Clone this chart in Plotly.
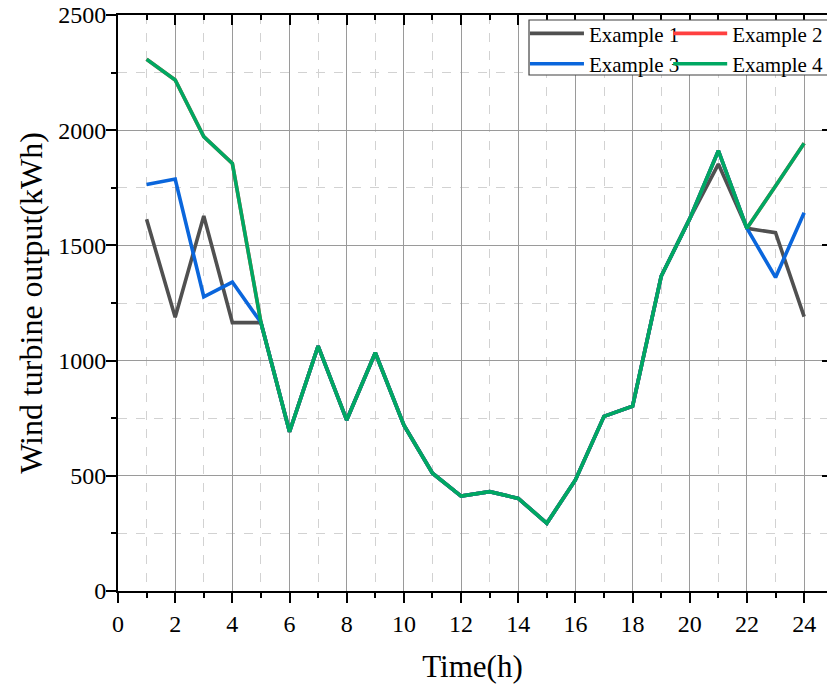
import plotly.graph_objects as go

# Hourly wind turbine output (kWh) for four dispatch examples
hours = list(range(1, 25))

example_1 = [1613, 1188, 1628, 1165, 1165, 691, 1063, 742, 1034, 720, 511, 412,
             431, 402, 294, 482, 758, 802, 1366, 1616, 1853, 1574, 1555, 1191]
example_2 = [2308, 2218, 1972, 1856, 1165, 691, 1063, 742, 1034, 720, 511, 412,
             431, 402, 294, 482, 758, 802, 1366, 1616, 1911, 1574, 1758, 1943]
example_3 = [1764, 1788, 1277, 1341, 1165, 691, 1063, 742, 1034, 720, 511, 412,
             431, 402, 294, 482, 758, 802, 1366, 1616, 1911, 1574, 1361, 1642]
example_4 = [2308, 2218, 1972, 1856, 1165, 691, 1063, 742, 1034, 720, 511, 412,
             431, 402, 294, 482, 758, 802, 1366, 1616, 1911, 1574, 1758, 1943]

# (name, values, colour, legend column)
series = [
    ("Example 1", example_1, "#505050", "legend"),
    ("Example 2", example_2, "#ff4040", "legend2"),
    ("Example 3", example_3, "#0a66dc", "legend"),
    ("Example 4", example_4, "#00a862", "legend2"),
]

FONT = "Liberation Serif, Times New Roman, serif"
X_RANGE = [0, 24.8]
Y_RANGE = [0, 2500]

fig = go.Figure()
for name, values, color, leg in series:
    fig.add_trace(go.Scatter(x=hours, y=values, mode="lines", name=name,
                             legend=leg, line=dict(color=color, width=3.6)))

# empty helpers so the mirrored top/right axes get their own subplots
fig.add_trace(go.Scatter(x=[None], y=[None], xaxis="x2", yaxis="y",
                         showlegend=False, hoverinfo="skip"))
fig.add_trace(go.Scatter(x=[None], y=[None], xaxis="x", yaxis="y2",
                         showlegend=False, hoverinfo="skip"))

major_grid = "#9a9a9a"
minor_grid = "#d2d2d2"

legend_style = dict(
    y=1.003, xanchor="left", yanchor="top", orientation="v",
    bgcolor="rgba(0,0,0,0)", borderwidth=0,
    font=dict(size=21), itemwidth=54, tracegroupgap=0,
)

fig.update_layout(
    width=827, height=686,
    margin=dict(l=118, r=0, t=15, b=95, autoexpand=False),
    paper_bgcolor="white", plot_bgcolor="white",
    font=dict(family=FONT, color="black", size=24),
    xaxis=dict(
        range=X_RANGE, tick0=0, dtick=2,
        ticks="outside", ticklen=10, tickwidth=2, tickcolor="black",
        showline=True, linecolor="black", linewidth=2,
        showgrid=True, gridcolor=major_grid, gridwidth=1, zeroline=False,
        minor=dict(dtick=1, tick0=0, ticks="outside", ticklen=5, tickwidth=2,
                   tickcolor="black", showgrid=True, gridcolor=minor_grid,
                   griddash="dash", gridwidth=1),
        tickfont=dict(size=24),
        title=dict(text="Time(h)", font=dict(size=31), standoff=20),
    ),
    yaxis=dict(
        range=Y_RANGE, tick0=0, dtick=500,
        ticks="outside", ticklen=10, tickwidth=2, tickcolor="black",
        showline=True, linecolor="black", linewidth=2,
        showgrid=True, gridcolor=major_grid, gridwidth=1, zeroline=False,
        minor=dict(dtick=250, tick0=0, ticks="outside", ticklen=5, tickwidth=2,
                   tickcolor="black", showgrid=True, gridcolor=minor_grid,
                   griddash="dash", gridwidth=1),
        tickfont=dict(size=24),
        ticklabelstandoff=-5,
        title=dict(text="Wind turbine output(kWh)", font=dict(size=32), standoff=6),
    ),
    xaxis2=dict(
        overlaying="x", side="top", anchor="y", range=X_RANGE, tick0=0, dtick=2,
        ticks="inside", ticklen=10, tickwidth=2, tickcolor="black",
        showline=True, linecolor="black", linewidth=2,
        showgrid=False, zeroline=False, showticklabels=False,
        minor=dict(dtick=1, tick0=0, ticks="inside", ticklen=5, tickwidth=2,
                   tickcolor="black", showgrid=False),
    ),
    yaxis2=dict(
        overlaying="y", side="right", anchor="x", range=Y_RANGE, tick0=0, dtick=500,
        ticks="inside", ticklen=5, tickwidth=2, tickcolor="black",
        showline=False, showgrid=False, zeroline=False, showticklabels=False,
    ),
    legend=dict(x=0.574, **legend_style),
    legend2=dict(x=0.776, **legend_style),
    showlegend=True,
)

# legend frame spanning both columns (white box over the grid)
fig.add_shape(type="rect", xref="paper", yref="paper",
              x0=0.5797, x1=1.02, y0=0.8958, y1=0.9913,
              fillcolor="white", line=dict(color="#404040", width=1.2),
              layer="above")

fig.write_html("out.html")
